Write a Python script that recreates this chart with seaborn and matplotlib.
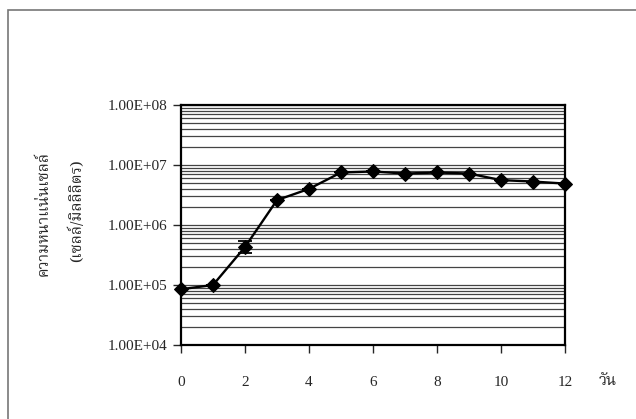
import numpy as np
import matplotlib
matplotlib.use("Agg")
import matplotlib.pyplot as plt
import matplotlib.ticker as mticker
from matplotlib.patches import Rectangle
import seaborn as sns
import pandas as pd

# ข้อมูลความหนาแน่นเซลล์ตามวัน
days = [0, 1, 2, 3, 4, 5, 6, 7, 8, 9, 10, 11, 12]
density = [8.5e4, 1.0e5, 4.3e5, 2.6e6, 4.0e6, 7.5e6, 7.8e6, 7.2e6, 7.5e6, 7.2e6, 5.6e6, 5.3e6, 4.9e6]
err_low = [0, 0, 0.9e5, 0, 0, 0, 0, 0, 0, 0, 0, 0, 0]
err_high = [0, 0, 1.1e5, 0, 0, 0, 0, 0, 0, 0, 0, 0, 0]

ylabel_line1 = "ความหนาแน่นเซลล์"
ylabel_line2 = "(เซลล์/มิลลิลิตร)"
xunit_text = "วัน"

df = pd.DataFrame({"day": days, "density": density})

sns.set_style("white")
thai_fonts = ["Noto Serif Thai", "Noto Sans Thai", "Loma", "Garuda", "Norasi", "DejaVu Sans"]
serif = ["Liberation Serif", "DejaVu Serif"]

fig = plt.figure(figsize=(6.36, 4.19), dpi=100)
ax = fig.add_axes([181/636, 1 - 345/419, (565 - 181)/636, (345 - 105)/419])

ax.set_yscale("log")
ax.set_ylim(1e4, 1e8)
ax.set_xlim(0, 12)

ax.grid(True, which="both", axis="y", color="#444444", linewidth=0.9)
ax.set_axisbelow(True)

ax.errorbar(days, density, yerr=[err_low, err_high], fmt="none",
            ecolor="black", elinewidth=1.3, capsize=5, capthick=1.3, zorder=3)
sns.lineplot(data=df, x="day", y="density", ax=ax, color="black",
             linewidth=1.7, marker="D", markersize=7.5, markeredgecolor="black",
             zorder=4, clip_on=False)

ax.set_xticks(range(0, 13, 2))
ax.yaxis.set_major_locator(mticker.LogLocator(base=10, numticks=10))
ax.yaxis.set_minor_locator(mticker.LogLocator(base=10, subs=np.arange(2, 10), numticks=10))
ax.yaxis.set_major_formatter(mticker.FuncFormatter(
    lambda v, p: "%.2fE+%02d" % (v / 10**np.floor(np.log10(v)), np.floor(np.log10(v)))))
ax.yaxis.set_minor_formatter(mticker.NullFormatter())

ax.tick_params(axis="y", which="major", direction="out", length=6, width=1, left=True, pad=4)
ax.tick_params(axis="y", which="minor", left=False)
ax.tick_params(axis="x", direction="out", length=6, width=1, bottom=True, pad=16)
for lab in ax.get_xticklabels() + ax.get_yticklabels():
    lab.set_family(serif)
    lab.set_fontsize(11)

for sp in ax.spines.values():
    sp.set_visible(True)
    sp.set_color("black")
    sp.set_linewidth(1.6)

ax.set_xlabel("")
ax.set_ylabel("")
fig.text(44/636, 1 - 213/419, ylabel_line1, family=thai_fonts, fontsize=11,
         rotation=90, ha="center", va="center")
fig.text(77/636, 1 - 211/419, ylabel_line2, family=thai_fonts, fontsize=11,
         rotation=90, ha="center", va="center")
fig.text(608/636, 1 - 381/419, xunit_text, family=thai_fonts, fontsize=11,
         ha="center", va="center")

fig.patches.append(Rectangle((8/636, -0.1), 1.2, 1 - 10/419 + 0.1, transform=fig.transFigure,
                             fill=False, edgecolor="#777777", linewidth=1.2))

fig.savefig("out.png", dpi=100)
